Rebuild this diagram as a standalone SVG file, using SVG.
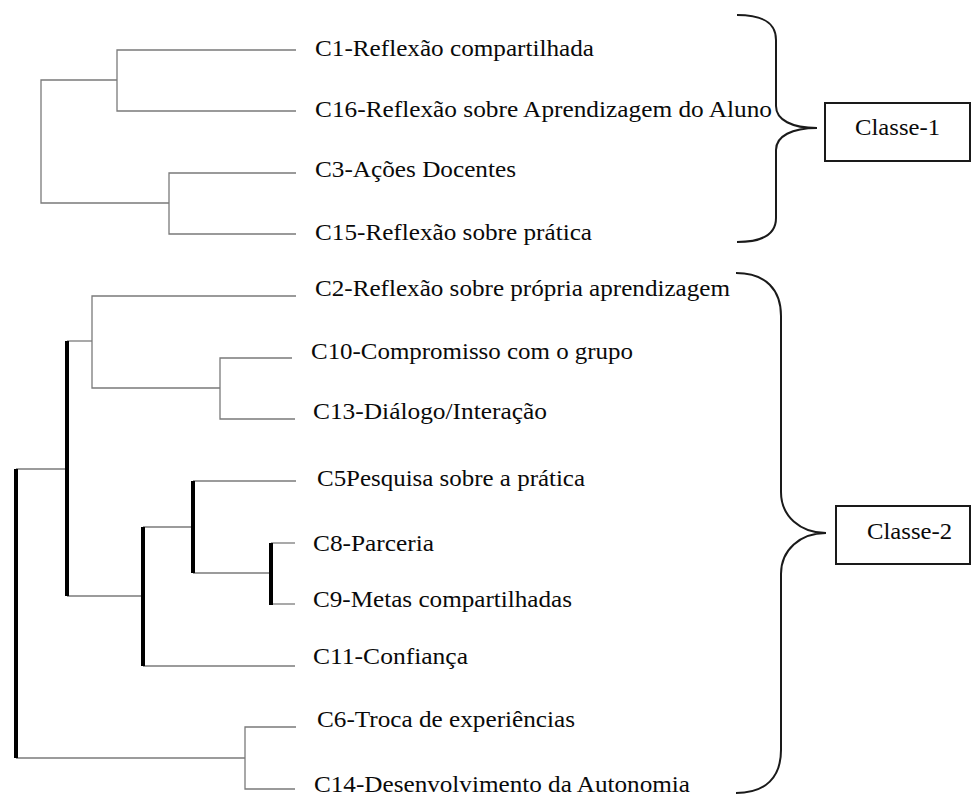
<svg xmlns="http://www.w3.org/2000/svg" width="972" height="803" viewBox="0 0 972 803">
<style>
.bg{fill:#ffffff}
.thin{stroke:#7a7a7a;stroke-width:1.3;fill:none}
.thick{stroke:#000000;stroke-width:4;fill:none}
.brace{stroke:#1a1a1a;stroke-width:2;fill:none}
.box{stroke:#1a1a1a;stroke-width:2;fill:#ffffff}
.lbl{font-family:"Liberation Serif","Times New Roman",serif;font-size:24px;fill:#0a0a0a}
</style>
<rect class="bg" x="0" y="0" width="972" height="803"/>
<g id="connectors">
  <path class="thin" d="M296,50 H117 V111 H296"/>
  <path class="thin" d="M117,80 H41 V203 H169"/>
  <path class="thin" d="M296,173 H169 V234 H296"/>
  <path class="thin" d="M296,296 H92 V388 H220"/>
  <path class="thin" d="M67,341 H92"/>
  <path class="thin" d="M292,358 H220 V419 H295"/>
  <path class="thin" d="M16,469 H67"/>
  <path class="thin" d="M67,596 H143"/>
  <path class="thin" d="M143,527 H193"/>
  <path class="thin" d="M193,481 H296"/>
  <path class="thin" d="M193,573 H271"/>
  <path class="thin" d="M271,543 H295"/>
  <path class="thin" d="M271,604 H295"/>
  <path class="thin" d="M143,666 H295"/>
  <path class="thin" d="M16,758 H245"/>
  <path class="thin" d="M296,727 H245 V789 H295"/>
  <path class="thick" d="M16,469 V758"/>
  <path class="thick" d="M67,341 V596"/>
  <path class="thick" d="M143,527 V666"/>
  <path class="thick" d="M193,481 V573"/>
  <path class="thick" d="M271,543 V605"/>
</g>
<g id="n-c1"><text class="lbl" x="315" y="56" textLength="279" lengthAdjust="spacingAndGlyphs">C1-Reflexão compartilhada</text></g>
<g id="n-c16"><text class="lbl" x="315" y="117" textLength="457" lengthAdjust="spacingAndGlyphs">C16-Reflexão sobre Aprendizagem do Aluno</text></g>
<g id="n-c3"><text class="lbl" x="315" y="177" textLength="201" lengthAdjust="spacingAndGlyphs">C3-Ações Docentes</text></g>
<g id="n-c15"><text class="lbl" x="315" y="240" textLength="277" lengthAdjust="spacingAndGlyphs">C15-Reflexão sobre prática</text></g>
<g id="n-c2"><text class="lbl" x="315" y="296" textLength="415" lengthAdjust="spacingAndGlyphs">C2-Reflexão sobre própria aprendizagem</text></g>
<g id="n-c10"><text class="lbl" x="311" y="359" textLength="322" lengthAdjust="spacingAndGlyphs">C10-Compromisso com o grupo</text></g>
<g id="n-c13"><text class="lbl" x="313" y="419" textLength="234" lengthAdjust="spacingAndGlyphs">C13-Diálogo/Interação</text></g>
<g id="n-c5"><text class="lbl" x="317" y="486" textLength="268" lengthAdjust="spacingAndGlyphs">C5Pesquisa sobre a prática</text></g>
<g id="n-c8"><text class="lbl" x="313" y="551" textLength="121" lengthAdjust="spacingAndGlyphs">C8-Parceria</text></g>
<g id="n-c9"><text class="lbl" x="313" y="607" textLength="259" lengthAdjust="spacingAndGlyphs">C9-Metas compartilhadas</text></g>
<g id="n-c11"><text class="lbl" x="313" y="664" textLength="155" lengthAdjust="spacingAndGlyphs">C11-Confiança</text></g>
<g id="n-c6"><text class="lbl" x="317" y="727" textLength="258" lengthAdjust="spacingAndGlyphs">C6-Troca de experiências</text></g>
<g id="n-c14"><text class="lbl" x="314" y="792" textLength="376" lengthAdjust="spacingAndGlyphs">C14-Desenvolvimento da Autonomia</text></g>
<g id="brace-1"><path class="brace" d="M737,15 C762,15 776,22 776,40 L776,106 C776,120 792,128 817,128 C792,128 776,136 776,150 L776,218 C776,234 762,242 737,242"/></g>
<g id="brace-2"><path class="brace" d="M736,273 C766,273 781,290 781,316 L781,492 C781,516 800,533 826,533 C800,533 781,550 781,574 L781,750 C781,777 766,793 736,793"/></g>
<g id="classe-1"><rect class="box" x="825" y="103" width="145" height="58"/><text class="lbl" x="855" y="135" textLength="85" lengthAdjust="spacingAndGlyphs">Classe-1</text></g>
<g id="classe-2"><rect class="box" x="836" y="506" width="134" height="58"/><text class="lbl" x="867" y="539" textLength="85" lengthAdjust="spacingAndGlyphs">Classe-2</text></g>
</svg>
